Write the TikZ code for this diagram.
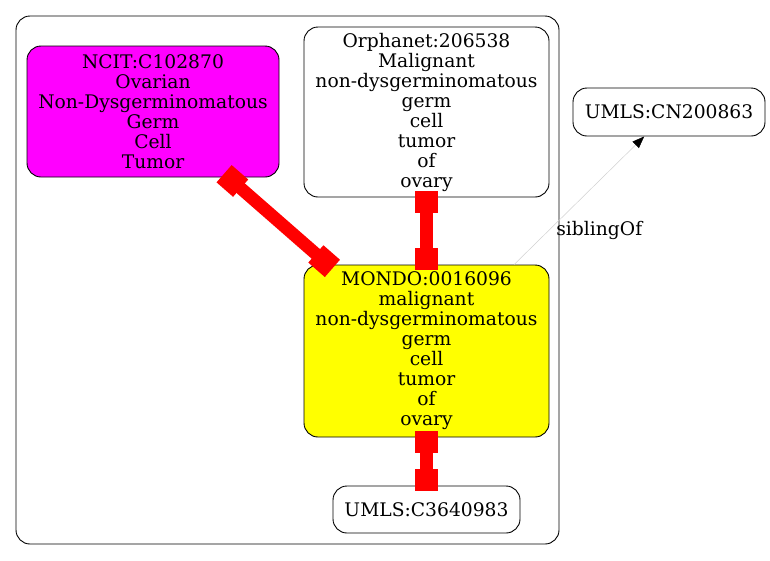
\documentclass[tikz,border=0pt]{standalone}
\usepackage{fontspec}
\setmainfont{DejaVu Serif}
\usetikzlibrary{arrows.meta,calc}
\definecolor{gvmagenta}{RGB}{255,0,255}
\definecolor{gvyellow}{RGB}{255,255,0}
\definecolor{gvred}{RGB}{255,0,0}
\tikzset{
  gvnode/.style={draw=black, line width=0.9pt, rounded corners=14pt, inner sep=0pt, align=center,
    font=\fontsize{18.7}{20}\selectfont},
  clusterbox/.style={draw=black, line width=0.9pt, rounded corners=14pt, inner sep=0pt},
  redline/.style={draw=gvred, line width=12.7pt},
  redbox/.style={fill=gvred, draw=none, inner sep=0pt, minimum width=22pt, minimum height=23pt, sloped},
  sibline/.style={draw=black!18, line width=0.5pt, -{Triangle[length=12pt,width=9pt,color=black]}},
  elabel/.style={font=\fontsize{18.7}{20}\selectfont, inner sep=0pt}
}
\begin{document}
\begin{tikzpicture}[x=1pt,y=-1pt]
\useasboundingbox (0,0) rectangle (770,560);
\node[clusterbox, minimum width=543pt, minimum height=528pt] (cl) at (287.5,280) {};
\node[gvnode, fill=gvmagenta, minimum width=252pt, minimum height=131pt] (ncit) at (153,111.5)
  {NCIT:C102870\\Ovarian\\Non-Dysgerminomatous\\Germ\\Cell\\Tumor};
\node[gvnode, fill=white, minimum width=245pt, minimum height=170pt] (orpha) at (426.5,112)
  {Orphanet:206538\\Malignant\\non-dysgerminomatous\\germ\\cell\\tumor\\of\\ovary};
\node[gvnode, fill=gvyellow, minimum width=245pt, minimum height=172pt] (mondo) at (426.5,351)
  {MONDO:0016096\\malignant\\non-dysgerminomatous\\germ\\cell\\tumor\\of\\ovary};
\node[gvnode, fill=white, minimum width=187pt, minimum height=47pt] (umlsa) at (426.5,509.5)
  {UMLS:C3640983};
\node[gvnode, fill=white, minimum width=192pt, minimum height=48pt] (umlsb) at (669,112)
  {UMLS:CN200863};
% equivalence edges
\draw[redline] (ncit) -- node[redbox, pos=0.04]{} node[redbox, pos=0.961]{} (mondo);
\draw[redline] (orpha) -- node[redbox, pos=0.0735]{} node[redbox, pos=0.912]{} (mondo);
\draw[redline] (mondo) -- node[redbox, pos=0.092]{} node[redbox, pos=0.878]{} (umlsa);
% sibling edge
\draw[sibline] (mondo) -- node[elabel, pos=0.264, anchor=west, xshift=7.7pt]{siblingOf} (umlsb);
\end{tikzpicture}
\end{document}
